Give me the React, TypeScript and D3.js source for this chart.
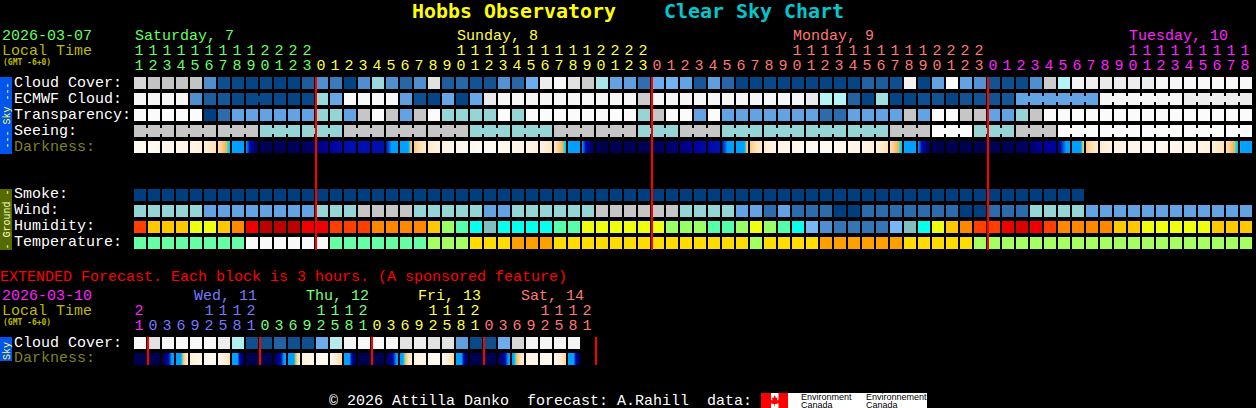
import { useEffect, useRef } from 'react';
import * as d3 from 'd3';

const MONO = '"Liberation Mono", monospace';
const BOLD = '"DejaVu Sans Mono", monospace';

// hourly forecast, one value per block, starts at 11:00 on the 7th
const days = [
  { label: 'Saturday, 7', hours: d3.range(11, 24), color: '#66ff66' },
  { label: 'Sunday, 8', hours: d3.range(0, 24), color: '#ffff44' },
  { label: 'Monday, 9', hours: d3.range(0, 24), color: '#ff7777' },
  { label: 'Tuesday, 10', hours: d3.range(0, 19), color: '#ff22ff' },
];

const cloudCover = [
  85, 80, 80, 80, 80, 30, 8, 5, 3, 5, 2, 2, 15, 30, 25, 2, 30, 60, 30, 20,
  30, 88, 15, 20, 10, 10, 32, 20, 45, 92, 98, 88, 82, 65, 40, 38, 22, 45, 48, 40,
  12, 38, 20, 3, 3, 5, 3, 3, 3, 3, 3, 3, 18, 15, 8, 95, 3, 40, 100, 40,
  32, 10, 8, 6, 30, 82, 70, 96, 93, 90, 92, 92, 92, 97, 97, 98, 98, 98, 98, 98,
];
const ecmwfCloud = [
  97, 97, 97, 97, 30, 15, 12, 5, 5, 5, 5, 3, 5, 60, 42, 100, 98, 98, 98, 38,
  8, 3, 42, 3, 42, 90, 97, 97, 97, 97, 97, 97, 97, 97, 97, 97, 82, 97, 97, 97,
  97, 97, 97, 97, 97, 97, 97, 97, 90, 70, 70, 18, 3, 62, 3, 3, 8, 10, 3, 10,
  10, 10, 12, 40, 40, 40, 40, 40, 40, 97, 97, 97, 97, 97, 97, 92, 92, 92, 92, 92,
];
const ecmwfLinks = [[8, 9], [63, 68], [69, 74], [75, 79]];
const transparency = [
  5, 5, 5, 5, 5, 0, 1, 2, 2, 2, 2, 2, 2, 3, 3, 2, 4, 5, 4, 2,
  4, 5, 3, 3, 3, 3, 5, 3, 5, 5, 5, 5, 5, 5, 5, 5, 3, 4, 5, 5,
  2, 5, 2, 2, 2, 2, 2, 2, 2, 1, 1, 2, 2, 2, 2, 4, 2, 5, 5, 4,
  4, 2, 2, 3, 4, 5, 5, 5, 5, 5, 5, 5, 5, 5, 5, 5, 5, 5, 5, 5,
];
// seeing comes in 3 hour groups
const seeing3h = [4, 4, 4, 3, 3, 4, 4, 4, 3, 3, 4, 4, 3, 4, 3, 3, 3, 3, 4, 5, 3, 4, 5, 5, 5, 5, 5];
// sky brightness at the left edge of each block, the last one closes the row
const darkness = [
  -3.9, -3.9, -3.8, -3.6, -3.4, -3, -2.5, -1.65, 1, 4, 3.8, 3.6, 3.8, 3, 2.4, 2, 1.9, 1.9, 1.9, 0,
  -2.2, -2.8, -3.1, -3.5, -3.8, -3.9, -3.9, -3.6, -3.3, -3.1, -2.6, -1.65, 1, 4, 4, 3.8, 3.8, 3.9, 3.4, 3,
  2.4, 2.1, 1.9, 0, -2.2, -2.8, -3.3, -3.6, -3.8, -3.9, -3.9, -3.6, -3.3, -3.05, -2.5, -1.65, 1, 4, 4, 4,
  4, 4, 4, 3.8, 3.3, 2.5, 2.3, 0.4, -2.2, -2.8, -3.2, -3.5, -3.7, -3.8, -3.7, -3.6, -3.3, -3, -2.5, -1.65,
  0,
];
const smoke = [
  0, 0, 0, 0, 0, 0, 0, 0, 0, 0, 0, 0, 0, 0, 0, 0, 0, 0, 0, 0,
  0, 0, 0, 0, 0, 0, 0, 0, 0, 0, 0, 0, 0, 0, 0, 0, 0, 0, 0, 0,
  0, 0, 0, 0, 0, 0, 0, 0, 0, 0, 0, 0, 0, 0, 0, 0, 0, 0, 0, 0,
  0, 0, 0, 0, 0, 0, 0, 0,
];
const wind = [
  3, 3, 3, 3, 3, 2, 2, 2, 2, 2, 2, 2, 2, 3, 3, 3, 4, 4, 4, 4,
  3, 3, 3, 3, 3, 2, 2, 3, 3, 3, 3, 3, 3, 4, 4, 4, 4, 4, 4, 3,
  3, 3, 3, 2, 2, 1, 2, 1, 1, 1, 0, 0, 1, 1, 1, 1, 1, 1, 1, 0,
  0, 1, 1, 1, 3, 3, 3, 3, 2, 2, 2, 2, 2, 2, 2, 2, 2, 2, 2, 2,
];
const humidity = [
  75, 65, 65, 65, 60, 60, 65, 70, 80, 90, 90, 90, 80, 80, 75, 75, 75, 70, 70, 70,
  70, 65, 55, 50, 45, 40, 45, 45, 45, 45, 50, 50, 60, 60, 60, 60, 60, 60, 55, 55,
  55, 50, 50, 55, 60, 55, 50, 45, 35, 30, 25, 25, 25, 25, 35, 40, 45, 60, 65, 70,
  75, 75, 80, 85, 80, 75, 70, 70, 70, 70, 65, 65, 60, 60, 60, 60, 60, 65, 65, 65,
];
const temperature = [
  41, 41, 41, 41, 41, 41, 41, 41, 32, 32, 32, 32, 32, 32, 41, 41, 41, 41, 41, 41,
  41, 50, 50, 50, 59, 59, 59, 68, 68, 68, 59, 59, 59, 59, 59, 59, 59, 59, 59, 59,
  59, 59, 59, 59, 50, 59, 59, 59, 59, 68, 68, 68, 68, 68, 68, 59, 59, 59, 59, 59,
  50, 50, 50, 50, 50, 50, 50, 50, 50, 50, 50, 50, 50, 50, 50, 50, 50, 50, 50, 50,
];

// extended forecast, one block is 3 hours
const extDays = [
  { label: '', labelX: 0, hours: [21], color: '#ff22ff' },
  { label: 'Wed, 11', labelX: 194, hours: [0, 3, 6, 9, 12, 15, 18, 21], color: '#7777ff' },
  { label: 'Thu, 12', labelX: 306, hours: [0, 3, 6, 9, 12, 15, 18, 21], color: '#77ff77' },
  { label: 'Fri, 13', labelX: 418, hours: [0, 3, 6, 9, 12, 15, 18, 21], color: '#ffff44' },
  { label: 'Sat, 14', labelX: 521, hours: [0, 3, 6, 9, 12, 15, 18, 21], color: '#ff7777' },
];
const extCloud = [
  98, 88, 97, 98, 98, 98, 92, 68, 8, 8, 18, 8, 8, 45, 72, 96,
  98, 98, 98, 88, 93, 88, 88, 38, 5, 8, 45, 85, 96, 96, 97, 96,
];
const extDarkLeft = [
  4, 4, 4, -0.5, -3, -3.8, -3.7, -1.5, 4, 4, 4, 0, -3, -3.8, -3.5, -1.5,
  4, 4, 4, -1, -3.2, -3.8, -3.5, -1.6, 4, 4, 4, -1.3, -3.3, -3.9, -3.5, -1.7,
];
const extDarkRight = [
  4, 4, 0.3, -3, -3.6, -3.9, -2.4, 4, 4, 4, 0.4, -3, -3.6, -3.8, -2.3, 4,
  4, 4, 0.5, -3.2, -3.6, -3.8, -2.3, 4, 4, 4, 0.5, -3.1, -3.6, -3.9, -2.3, 4,
];

const mainRows = [
  { label: 'Cloud Cover:', y: 77, base: 87 },
  { label: 'ECMWF Cloud:', y: 93, base: 103 },
  { label: 'Transparency:', y: 109, base: 119 },
  { label: 'Seeing:', y: 125, base: 135 },
  { label: 'Darkness:', y: 141, base: 151, color: '#808020' },
  { label: 'Smoke:', y: 189, base: 198 },
  { label: 'Wind:', y: 205, base: 214 },
  { label: 'Humidity:', y: 221, base: 230 },
  { label: 'Temperature:', y: 237, base: 246 },
];

const cloudColor = d3.scaleLinear<string>()
  .domain([0, 10, 20, 30, 40, 50, 60, 70, 80, 90, 100])
  .range(['#003f7f', '#135393', '#2767a7', '#4f8fcf', '#63a3e3', '#77b7f7', '#9adada', '#b4f4f4', '#c4c4c4', '#eaeaea', '#fbfbfb']);
const levelColor = d3.scaleOrdinal<number, string>()
  .domain([0, 1, 2, 3, 4, 5])
  .range(['#003f7f', '#2c6cac', '#63a3e3', '#95d5d5', '#c6c6c6', '#fbfbfb']);
const humidityColor = d3.scaleOrdinal<number, string>()
  .domain([25, 30, 35, 40, 45, 50, 55, 60, 65, 70, 75, 80, 85, 90])
  .range(['#3575b5', '#4f8fcf', '#77b7f7', '#80bfbf', '#08ffee', '#55ffaa', '#99ff66', '#eeff10', '#ffc800', '#ff8800', '#ff3e00', '#ee0000', '#dd0000', '#bb0000']);
const temperatureColor = d3.scaleOrdinal<number, string>()
  .domain([32, 41, 50, 59, 68])
  .range(['#f8f8f8', '#66ffa3', '#a6ff60', '#ffdd00', '#ffa000']);
const darkColor = d3.scaleLinear<string>()
  .domain([-4, -3, -2.5, -1.9, -1.8, -1.5, 1, 1.5, 1.9, 2.4, 3, 3.5, 4])
  .range(['#fffaf2', '#fff0dc', '#ffe2b4', '#ffb050', '#00e8e8', '#00a0ff', '#00a0ff', '#0050d0', '#0010b0', '#0000a0', '#000078', '#000060', '#000050'])
  .clamp(true);

const x = d3.scaleBand<number>()
  .domain(d3.range(80))
  .range([134, 1252])
  .paddingInner(2 / 14);
const cellW = x.bandwidth();
const cellH = 12;

export default function App() {
  const svgRef = useRef<SVGSVGElement>(null);

  useEffect(() => {
    const svg = d3.select(svgRef.current);
    svg.selectAll('*').remove();

    svg.append('rect').attr('width', 1256).attr('height', 408).attr('fill', '#000');

    const text = (s: string, tx: number, ty: number, color: string, size = 15, weight = 'normal', family = MONO) =>
      svg.append('text')
        .attr('x', tx).attr('y', ty)
        .attr('fill', color)
        .attr('font-family', family)
        .attr('font-size', size)
        .attr('font-weight', weight)
        .style('white-space', 'pre')
        .text(s);

    const cells = (values: number[], y: number, color: (v: number) => string) =>
      svg.append('g').attr('shape-rendering', 'crispEdges')
        .selectAll('rect').data(values).join('rect')
        .attr('x', (_, i) => x(i)!)
        .attr('y', y)
        .attr('width', cellW)
        .attr('height', cellH)
        .attr('fill', d => color(d));

    // short bar between two blocks that belong to the same forecast step
    const link = (from: number, color: string, y: number) =>
      svg.append('rect')
        .attr('shape-rendering', 'crispEdges')
        .attr('x', x(from)! + cellW).attr('y', y + 3)
        .attr('width', x.step() - cellW).attr('height', 6)
        .attr('fill', color);

    // each darkness block is drawn one pixel column at a time
    const darkCells = (lefts: number[], rights: number[], y: number) => {
      const g = svg.append('g').attr('shape-rendering', 'crispEdges');
      lefts.forEach((l, i) => {
        const r = rights[i];
        g.append('g').selectAll('rect').data(d3.range(cellW)).join('rect')
          .attr('x', p => x(i)! + p)
          .attr('y', y)
          .attr('width', 1)
          .attr('height', cellH)
          .attr('fill', p => darkColor(l + (r - l) * (p + 0.5) / cellW));
      });
    };

    // title
    text('Hobbs Observatory', 412, 18, '#ffff00', 19.93, 'bold', BOLD);
    text('Clear Sky Chart', 664, 18, '#00c8d0', 19.93, 'bold', BOLD);

    // hour header
    text('2026-03-07', 2, 40, '#66ff66');
    text('Local Time', 2, 55, '#bbbb00');
    text('(GMT -6+0)', 3, 65, '#bbbb00', 8, 'bold', BOLD);
    let col = 0;
    days.forEach(day => {
      const firstTens = day.hours.findIndex(h => h >= 10);
      text(day.label, x(col + firstTens)! + 1, 40, day.color);
      day.hours.forEach((h, i) => {
        const cx = x(col + i)! + 0.5;
        if (h >= 10) text(String(Math.floor(h / 10)), cx, 55, day.color);
        text(String(h % 10), cx, 70, day.color);
      });
      col += day.hours.length;
    });

    mainRows.forEach(r => text(r.label, 14, r.base, r.color ?? '#ffffff'));

    // sky group
    svg.append('rect').attr('x', 0).attr('y', 77).attr('width', 12).attr('height', 77).attr('fill', '#0055ee');
    text('--- Sky ---', 0, 0, '#ffff44', 10)
      .attr('text-anchor', 'middle')
      .attr('transform', 'translate(9.5,115.5) rotate(-90)');
    cells(cloudCover, 77, v => cloudColor(v));
    cells(ecmwfCloud, 93, v => cloudColor(v));
    ecmwfLinks.forEach(([a, b]) => d3.range(a, b).forEach(i => link(i, cloudColor(ecmwfCloud[i]), 93)));
    cells(transparency, 109, v => levelColor(v));
    const seeing = d3.range(80).map(i => seeing3h[Math.floor(i / 3)]);
    cells(seeing, 125, v => levelColor(v));
    seeing.forEach((v, i) => { if (i % 3 !== 2 && i < 79) link(i, levelColor(v), 125); });
    darkCells(darkness.slice(0, -1), darkness.slice(1), 141);

    // ground group
    svg.append('rect').attr('x', 0).attr('y', 189).attr('width', 12).attr('height', 61).attr('fill', '#556b00');
    text('- Ground -', 0, 0, '#ffffcc', 10)
      .attr('text-anchor', 'middle')
      .attr('transform', 'translate(9.5,219.5) rotate(-90)');
    cells(smoke, 189, v => levelColor(v));
    cells(wind, 205, v => levelColor(v));
    cells(humidity, 221, v => humidityColor(v));
    cells(temperature, 237, v => temperatureColor(v));

    // midnight markers
    let midnight = 0;
    days.slice(0, -1).forEach(day => {
      midnight += day.hours.length;
      svg.append('rect').attr('shape-rendering', 'crispEdges')
        .attr('x', x(midnight)! - 1).attr('y', 77).attr('width', 2).attr('height', 173).attr('fill', '#ff0000');
    });

    // extended forecast
    text('EXTENDED Forecast. Each block is 3 hours. (A sponsored feature)', 0, 281, '#ff0000');
    text('2026-03-10', 2, 300, '#ff22ff');
    text('Local Time', 2, 315, '#bbbb00');
    text('(GMT -6+0)', 3, 325, '#bbbb00', 8, 'bold', BOLD);
    let extCol = 0;
    extDays.forEach(day => {
      if (day.label) text(day.label, day.labelX, 300, day.color);
      day.hours.forEach((h, i) => {
        const cx = x(extCol + i)! + 0.5;
        if (h >= 10) text(String(Math.floor(h / 10)), cx, 315, day.color);
        text(String(h % 10), cx, 330, day.color);
      });
      extCol += day.hours.length;
    });
    text('Cloud Cover:', 14, 347, '#ffffff');
    text('Darkness:', 14, 362, '#808020');
    svg.append('rect').attr('x', 0).attr('y', 337).attr('width', 12).attr('height', 24).attr('fill', '#0055ee');
    text('Sky', 0, 0, '#ffff44', 10)
      .attr('text-anchor', 'middle')
      .attr('transform', 'translate(9.5,351) rotate(-90)');
    cells(extCloud, 337, v => cloudColor(v));
    darkCells(extDarkLeft, extDarkRight, 353);
    let extMidnight = 0;
    extDays.forEach(day => {
      extMidnight += day.hours.length;
      svg.append('rect').attr('shape-rendering', 'crispEdges')
        .attr('x', x(extMidnight)! - 1).attr('y', 337).attr('width', 2).attr('height', 28).attr('fill', '#ff0000');
    });

    // footer and logo
    text('\u00a9 2026 Attilla Danko  forecast: A.Rahill  data:', 329, 405, '#ffffff');
    const logo = svg.append('g').attr('transform', 'translate(761,393)');
    logo.append('rect').attr('width', 166).attr('height', 15).attr('fill', '#fff');
    logo.append('rect').attr('width', 10).attr('height', 15).attr('fill', '#ff0000');
    logo.append('rect').attr('x', 17.5).attr('width', 9.5).attr('height', 15).attr('fill', '#ff0000');
    logo.append('path')
      .attr('d', 'M13.7 2 L15 5 L16.5 4.2 L16 7.5 L18 6.5 L18.5 8 L20 8 L18.5 10 L15 11 L14 11 L14 13.5 L13.4 13.5 L13.4 11 L12.4 11 L9 10 L7.5 8 L9 8 L9.5 6.5 L11.5 7.5 L11 4.2 L12.4 5 Z')
      .attr('fill', '#ff0000');
    [['Environment', 40], ['Environnement', 105]].forEach(([s, lx]) => {
      logo.append('text').attr('x', lx).attr('y', 7).attr('font-family', 'Liberation Sans')
        .attr('font-size', 9).attr('fill', '#000').text(s as string);
      logo.append('text').attr('x', lx).attr('y', 14.5).attr('font-family', 'Liberation Sans')
        .attr('font-size', 9).attr('fill', '#000').text('Canada');
    });
  }, []);

  return (
    <>
      <style>{'body{margin:0;background:#000}'}</style>
      <svg ref={svgRef} width={1256} height={408} style={{ display: 'block' }} />
    </>
  );
}
